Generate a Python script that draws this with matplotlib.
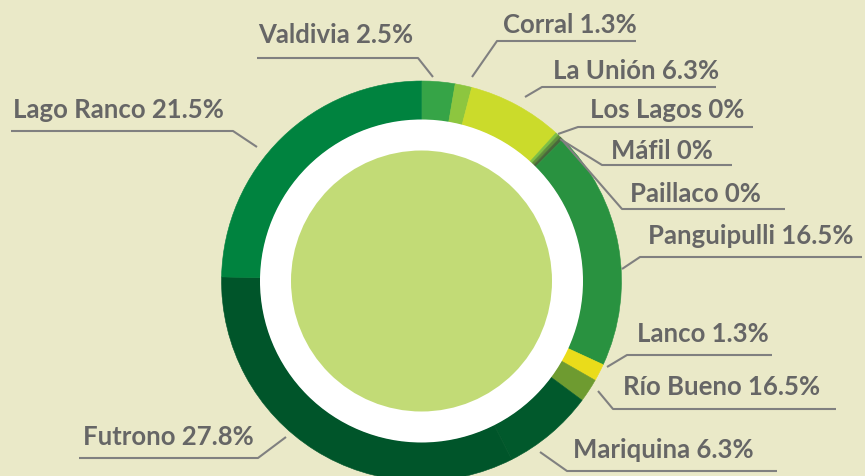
import matplotlib
matplotlib.use("Agg")
import matplotlib.pyplot as plt
from matplotlib.patches import Circle

# ---- data (clockwise from 12 o'clock) ----
comunas = ["Valdivia", "Corral", "La Unión", "Los Lagos", "Máfil", "Paillaco",
           "Panguipulli", "Lanco", "Río Bueno", "Mariquina", "Futrono", "Lago Ranco"]
label_pct = ["2.5%", "1.3%", "6.3%", "0%", "0%", "0%",
             "16.5%", "1.3%", "16.5%", "6.3%", "27.8%", "21.5%"]
# wedge sizes as drawn in the picture (share of the ring)
ring_share = [2.7, 1.35, 7.7, 0.25, 0.25, 0.25, 19.4, 1.4, 1.9, 7.4, 32.8, 24.7]
colors = ["#36A447", "#8DC63F", "#CBDB2B", "#7DBF44", "#5E8F3A", "#48683A",
          "#299240", "#EADC1A", "#6E9B30", "#01592C", "#00552A", "#00833F"]

# ---- layout (pixel coordinates, y downward) ----
W, H = 865, 477
CX, CY = 421.5, 282
R_OUT, R_WHITE, R_INNER = 200, 161.5, 130.5
BG = "#EAE9C8"
TXT = "#666666"
LINE = "#808080"

# leader: (x0, y0) near ring -> (x1, y1) elbow -> (x2, y1) end of underline ; text x, baseline
leaders = [
    [(433, 78), (418, 59), 257, 258, 43],      # Valdivia
    [(472, 78), (497, 42), 636, 503, 33],      # Corral
    [(525, 98), (542, 88), 716, 553, 79],      # La Unión
    [(558, 135), (578, 128), 753, 590, 118],   # Los Lagos
    [(560, 140), (602, 166), 732, 611, 159],   # Máfil
    [(562, 141), (622, 210), 785, 630, 202],   # Paillaco
    [(622, 270), (640, 258), 862, 648, 244],   # Panguipulli
    [(607, 368), (627, 356), 772, 637, 342],   # Lanco
    [(598, 392), (613, 410), 836, 623, 395],   # Río Bueno
    [(540, 453), (567, 472), 777, 573, 458],   # Mariquina
    [(286, 438), (258, 459), 79, 83, 445],     # Futrono
    [(257, 148), (233, 132), 11, 13, 118],     # Lago Ranco
]


def fy(y):
    return H - y


fig = plt.figure(figsize=(W / 100, H / 100), dpi=100, facecolor=BG)
ax = fig.add_axes([0, 0, 1, 1])
ax.set_facecolor(BG)

ax.pie(ring_share, colors=colors, startangle=90, counterclock=False,
       center=(CX, fy(CY)), radius=R_OUT,
       wedgeprops=dict(width=R_OUT - R_WHITE + 0.5, linewidth=0.4))
for w in ax.patches:
    w.set_edgecolor(w.get_facecolor())

ax.add_patch(Circle((CX, fy(CY)), R_WHITE, facecolor="white", edgecolor="none", zorder=3))
ax.add_patch(Circle((CX, fy(CY)), R_INNER, facecolor="#C2DB76", edgecolor="none", zorder=4))

for name, pct, (p0, p1, xend, tx, base) in zip(comunas, label_pct, leaders):
    ax.plot([p0[0], p1[0], xend], [fy(p0[1]), fy(p1[1]), fy(p1[1])],
            color=LINE, lw=1.5, solid_capstyle="butt", zorder=5)
    ax.text(tx, fy(base), f"{name} {pct}", ha="left", va="baseline",
            fontsize=18.5, fontweight="bold", color=TXT,
            family=["Lato", "DejaVu Sans"], zorder=6)

ax.set_xlim(0, W)
ax.set_ylim(0, H)
ax.set_aspect("auto")
ax.set_axis_off()

fig.savefig("out.png", dpi=100, facecolor=BG)
